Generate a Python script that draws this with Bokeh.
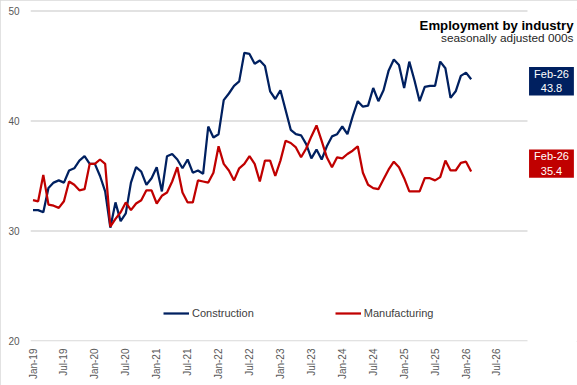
import numpy as np
import pandas as pd
from bokeh.plotting import figure
from bokeh.models import Range1d, FixedTicker, Label
from bokeh.embed import file_html
from bokeh.resources import INLINE

# ---- data ----
months = pd.date_range("2019-01-01", periods=86, freq="MS").strftime("%b-%y").tolist()

construction = [
    31.9, 31.9, 31.7, 33.9, 34.4, 34.6, 34.4, 35.5, 35.7, 36.4, 36.8, 36.1,
    36.1, 35.0, 33.6, 30.3, 32.6, 30.9, 31.6, 34.4, 35.8, 35.4, 34.2, 34.8,
    35.8, 33.6, 36.8, 37.0, 36.5, 35.7, 36.5, 35.3, 35.5, 35.2, 39.5, 38.5,
    38.8, 41.9, 42.5, 43.2, 43.6, 46.2, 46.1, 45.2, 45.5, 45.0, 42.7, 42.0,
    42.8, 41.0, 39.2, 38.8, 38.7, 37.9, 36.6, 37.4, 36.5, 37.7, 38.6, 38.8,
    39.5, 38.8, 40.4, 41.8, 41.3, 41.4, 43.0, 41.8, 42.8, 44.6, 45.6, 45.1,
    43.0, 45.4, 43.7, 41.8, 43.1, 43.2, 43.2, 45.4, 44.8, 42.1, 42.7, 44.1,
    44.4, 43.8,
]

manufacturing = [
    32.8, 32.7, 35.1, 32.4, 32.3, 32.1, 32.7, 34.5, 34.2, 33.7, 33.8, 36.1,
    36.1, 36.5, 36.1, 30.4, 31.1, 31.7, 32.6, 31.9, 32.5, 32.8, 33.7, 33.7,
    32.5, 33.2, 33.5, 34.5, 35.8, 33.5, 32.6, 32.6, 34.6, 34.5, 34.4, 35.3,
    37.7, 36.1, 35.5, 34.6, 35.7, 36.1, 36.8, 36.1, 34.5, 36.4, 36.4, 35.0,
    36.4, 38.2, 38.0, 37.6, 36.7, 37.5, 38.6, 39.6, 38.2, 36.7, 35.8, 36.7,
    36.6, 37.0, 37.3, 37.7, 35.3, 34.2, 33.9, 33.8, 34.7, 35.6, 36.3, 35.8,
    34.8, 33.6, 33.6, 33.6, 34.8, 34.8, 34.6, 34.9, 36.4, 35.5, 35.5, 36.2,
    36.3, 35.4,
]

tick_labels = ["Jan-19", "Jul-19", "Jan-20", "Jul-20", "Jan-21", "Jul-21",
               "Jan-22", "Jul-22", "Jan-23", "Jul-23", "Jan-24", "Jul-24",
               "Jan-25", "Jul-25", "Jan-26", "Jul-26"]
y_ticks = [20, 30, 40, 50]

series_names = ["Construction", "Manufacturing"]
title_text = "Employment by industry"
subtitle_text = "seasonally adjusted 000s"

# ---- style ----
FONT = "Liberation Sans"
NAVY = "#002060"
RED = "#C00000"
GRID = "#D9D9D9"
LABEL_GREY = "#595959"

X_START, X_END = -0.485, 105.63     # visible x window (months from Jan-19)
GRID_END = 95.93                    # where the plot area / gridlines stop
Y_START, Y_END = 19.9545, 50.13636  # 11 px per unit
PX = 1.0 / 11.0                     # one pixel in y data units

x = list(range(len(months)))

p = figure(width=577, height=385, output_backend="svg", toolbar_location=None,
           x_range=Range1d(X_START, X_END), y_range=Range1d(Y_START, Y_END),
           min_border_left=30, min_border_right=0, min_border_top=9,
           min_border_bottom=44)
p.outline_line_color = None
p.background_fill_color = "white"
p.border_fill_color = "white"
p.styles = {"outline": "1px solid #D9D9D9", "outline-offset": "-1px"}

p.xgrid.visible = False
p.ygrid.visible = False
# horizontal gridlines limited to the plot area (thin bars)
p.hbar(y=y_ticks, left=X_START, right=GRID_END, height=PX * 1.3,
       fill_color=GRID, line_color=None)

p.yaxis.ticker = FixedTicker(ticks=y_ticks)
step = 6
p.xaxis.ticker = FixedTicker(ticks=[step * i for i in range(len(tick_labels))])
p.xaxis.major_label_overrides = {step * i: t for i, t in enumerate(tick_labels)}
p.xaxis.major_label_orientation = np.pi / 2

for ax in (p.xaxis[0], p.yaxis[0]):
    ax.axis_line_color = None
    ax.major_tick_line_color = None
    ax.minor_tick_line_color = None
    ax.major_tick_out = 0
    ax.major_tick_in = 0
    ax.minor_tick_out = 0
    ax.minor_tick_in = 0
    ax.major_label_text_font = FONT
    ax.major_label_text_font_size = "10px"
    ax.major_label_text_color = LABEL_GREY
p.yaxis.major_label_standoff = 11
p.xaxis.major_label_standoff = 7

p.line(x, construction, color=NAVY, line_width=2.25, legend_label=series_names[0])
p.line(x, manufacturing, color=RED, line_width=2.25, legend_label=series_names[1])

lg = p.legend[0]
lg.orientation = "horizontal"
lg.location = (133, 21)
lg.border_line_color = None
lg.background_fill_alpha = 0
lg.label_text_font = FONT
lg.label_text_font_size = "11px"
lg.label_text_color = "#404040"
lg.label_height = 14
lg.glyph_height = 14
lg.glyph_width = 26
lg.label_standoff = 3
lg.spacing = 81
lg.padding = 0
lg.margin = 0

# title and subtitle
p.add_layout(Label(x=104.85, y=48.71, text=title_text, text_align="right",
                   text_baseline="alphabetic", text_font=FONT,
                   text_font_style="bold", text_font_size="13.2px",
                   text_color="#000000"))
p.add_layout(Label(x=104.85, y=47.58, text=subtitle_text, text_align="right",
                   text_baseline="alphabetic", text_font=FONT,
                   text_font_size="11.8px", text_color="#262626"))

# end-of-series value boxes
for vals, col, yoff in ((construction, NAVY, -2), (manufacturing, RED, 8)):
    p.add_layout(Label(x=100.58, y=vals[-1], y_offset=yoff,
                       text=f"{months[-1]}\n{vals[-1]:.1f}",
                       text_align="center", text_baseline="middle",
                       text_color="white", text_font=FONT,
                       text_font_size="11px", text_line_height=1.2,
                       background_fill_color=col,
                       padding={"left": 5, "right": 5, "top": 1, "bottom": 1}))

open("out.html", "w").write(file_html(p, INLINE))
